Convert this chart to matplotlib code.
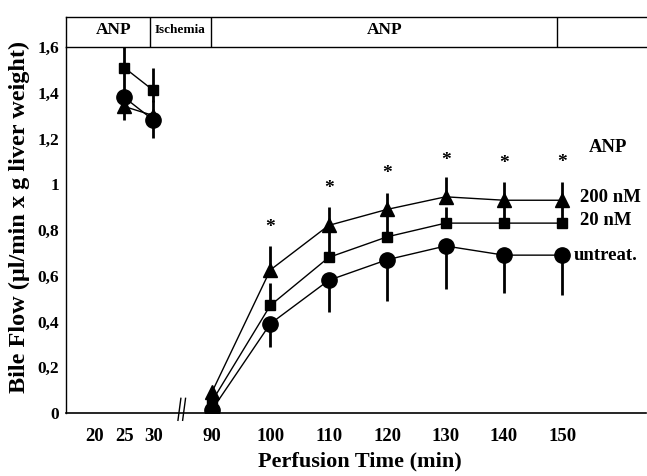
import matplotlib.pyplot as plt
from matplotlib.transforms import blended_transform_factory

# time (min) -> position on the broken axis
TIME_POS = {20: -2.0, 25: -1.5, 30: -1.0, 90: 0, 100: 1, 110: 2, 120: 3, 130: 4, 140: 5, 150: 6}
TICK_TIMES = [20, 25, 30, 90, 100, 110, 120, 130, 140, 150]

TIMES = [25, 30, 90, 100, 110, 120, 130, 140, 150]

ANP200 = [1.34, 1.30, 0.09, 0.625, 0.82, 0.89, 0.945, 0.93, 0.93]
ANP200_UP = [0.0, 0.0, 0.0, 0.105, 0.08, 0.07, 0.085, 0.08, 0.08]
ANP200_DN = [0.06, 0.0, 0.0, 0.0, 0.0, 0.0, 0.0, 0.0, 0.0]

ANP20 = [1.51, 1.41, 0.05, 0.47, 0.68, 0.77, 0.83, 0.83, 0.83]
ANP20_UP = [0.09, 0.10, 0.0, 0.10, 0.12, 0.10, 0.07, 0.07, 0.07]
ANP20_DN = [0.10, 0.05, 0.0, 0.0, 0.0, 0.0, 0.0, 0.0, 0.0]

UNTREAT = [1.38, 1.28, 0.013, 0.39, 0.58, 0.67, 0.73, 0.69, 0.69]
UNTREAT_UP = [0.0, 0.09, 0.0, 0.0, 0.0, 0.0, 0.0, 0.0, 0.0]
UNTREAT_DN = [0.0, 0.08, 0.0, 0.10, 0.14, 0.18, 0.19, 0.165, 0.175]

STAR_TIMES = [100, 110, 120, 130, 140, 150]
STAR_Y = [0.81, 0.98, 1.045, 1.105, 1.09, 1.093]

YTICKS = [0, 0.2, 0.4, 0.6, 0.8, 1.0, 1.2, 1.4, 1.6]
YLABELS = ["0", "0,2", "0,4", "0,6", "0,8", "1", "1,2", "1,4", "1,6"]

SERIES = [
    ("200 nM", ANP200, ANP200_UP, ANP200_DN, "^", 10),
    ("20 nM", ANP20, ANP20_UP, ANP20_DN, "s", 6.5),
    ("untreat.", UNTREAT, UNTREAT_UP, UNTREAT_DN, "o", 11),
]

plt.rcParams["font.family"] = ["Liberation Serif", "DejaVu Serif"]
plt.rcParams["font.weight"] = "bold"

fig = plt.figure(figsize=(6.47, 4.76), dpi=100)
ax = fig.add_axes([0.102, 0.1324, 0.897, 0.7689])
XLIM = (-2.496, 7.436)

pos = [TIME_POS[t] for t in TIMES]
for name, ys, up, dn, mk, ms in SERIES:
    ax.errorbar(pos, ys, yerr=[dn, up], fmt="none", ecolor="black", elinewidth=2.0, capsize=0, zorder=2)
    # two segments: before ischemia and after reperfusion
    ax.plot(pos[:2], ys[:2], color="black", linewidth=1.0, zorder=3)
    ax.plot(pos[2:], ys[2:], color="black", linewidth=1.0, zorder=3)
    ax.plot(pos, ys, linestyle="none", marker=mk, markersize=ms, color="black", zorder=4)

for t, y in zip(STAR_TIMES, STAR_Y):
    ax.text(TIME_POS[t], y, "*", ha="center", va="center", fontsize=14, fontweight="bold")

ax.set_xlim(*XLIM)
ax.set_ylim(0, 1.6)
ax.set_yticks(YTICKS)
ax.set_yticklabels(YLABELS, fontsize=12.5, fontweight="bold")
ax.set_xticks([TIME_POS[t] for t in TICK_TIMES])
ax.set_xticklabels([str(t) for t in TICK_TIMES], fontsize=13.5, fontweight="bold")
ax.tick_params(axis="both", length=0)
ax.tick_params(axis="y", pad=5)
ax.tick_params(axis="x", pad=11)
ax.spines["right"].set_visible(False)
ax.spines["top"].set_linewidth(0.6)
ax.spines["top"].set_color("#555555")
ax.spines["left"].set_linewidth(1.0)
ax.spines["bottom"].set_linewidth(1.2)

ax.set_xlabel("Perfusion Time (min)", fontsize=16, fontweight="bold")
ax.xaxis.set_label_coords(0.507, -0.105)
ax.set_ylabel("Bile Flow (\u03bcl/min x g liver weight)", fontsize=17.5, fontweight="bold")
ax.yaxis.set_label_coords(-0.062, 0.535)

# axis break marks
tr = blended_transform_factory(ax.transData, ax.transAxes)
for dx in (-0.06, 0.02):
    ax.plot([-0.52 + dx, -0.47 + dx], [-0.02, 0.04], transform=tr, color="black", linewidth=1.0, clip_on=False)

# series labels on the right
ax.text(6.78, 1.16, "ANP", fontsize=13.5, fontweight="bold", ha="center", va="center")
ax.text(6.3, 0.94, "200 nM", fontsize=13.5, fontweight="bold", ha="left", va="center")
ax.text(6.3, 0.84, "20 nM", fontsize=13.5, fontweight="bold", ha="left", va="center")
ax.text(6.2, 0.69, "untreat.", fontsize=13.5, fontweight="bold", ha="left", va="center")

# header strip with protocol phases
hax = fig.add_axes([0.102, 0.9013, 0.897, 0.0630])
hax.set_xlim(*XLIM)
hax.set_ylim(0, 1)
hax.set_xticks([])
hax.set_yticks([])
hax.spines["right"].set_visible(False)
for sp in ("top", "left", "bottom"):
    hax.spines[sp].set_linewidth(1.0)
for xd in (-1.06, -0.02, 5.9):
    hax.axvline(xd, color="black", linewidth=1.0)
hax.text(-1.68, 0.55, "ANP", ha="center", va="center", fontsize=12.5, fontweight="bold")
hax.text(-0.54, 0.55, "Ischemia", ha="center", va="center", fontsize=9.5, fontweight="bold")
hax.text(2.96, 0.55, "ANP", ha="center", va="center", fontsize=12.5, fontweight="bold")

fig.savefig("out.png", dpi=100)
